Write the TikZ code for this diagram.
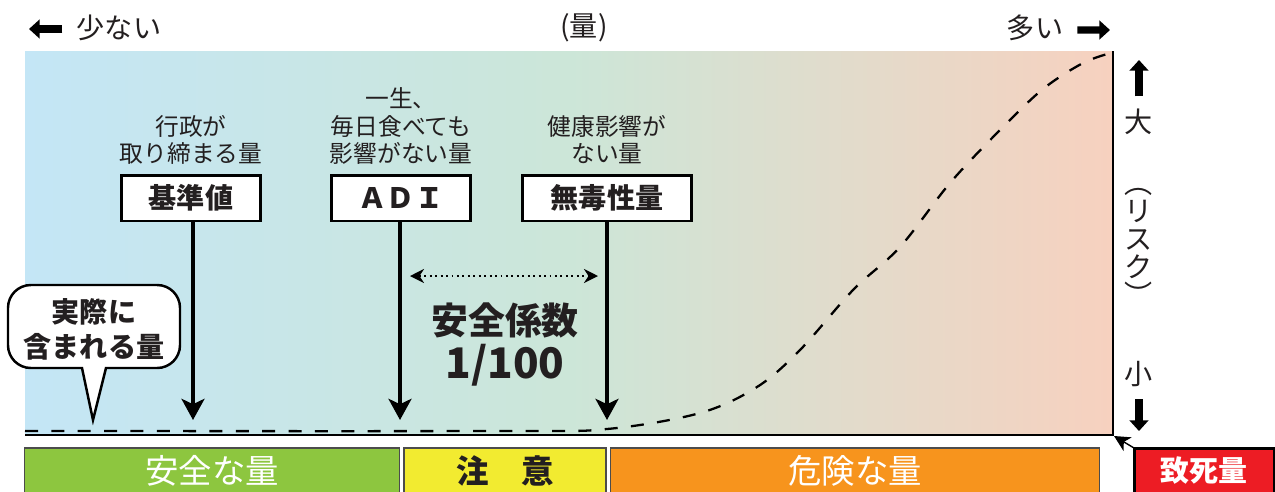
\documentclass[tikz,border=0pt]{standalone}
\usepackage{fontspec}
\newfontfamily\jp{Noto Sans CJK JP}
\usetikzlibrary{positioning}
\usetikzlibrary{arrows.meta}
\definecolor{ink}{HTML}{231F20}
\definecolor{skyblue}{HTML}{C4E6F6}
\definecolor{mint}{HTML}{CCE6D8}
\definecolor{peach}{HTML}{F7D1BF}
\definecolor{safegreen}{HTML}{8DC63F}
\definecolor{warnyellow}{HTML}{F2EB30}
\definecolor{riskorange}{HTML}{F7941D}
\definecolor{deathred}{HTML}{ED1C24}

\begin{document}
\begin{tikzpicture}[x=0.02cm,y=-0.02cm,font=\jp,text=ink,
    namebox/.style={draw=black,fill=white,line width=1.7pt,minimum width=2.8cm,minimum height=0.92cm,inner sep=0pt,font=\jp\bfseries\fontsize{16}{18}\selectfont},
    note/.style={align=center,inner sep=0pt,font=\jp\fontsize{13.5}{15.5}\selectfont},
    side/.style={inner sep=0pt,font=\jp\fontsize{16}{16}\selectfont},
    bar/.style={minimum height=0.92cm,inner sep=0pt,outer sep=0pt,draw=black!70,line width=0.6pt,text=white,font=\jp\fontsize{19}{20}\selectfont},
    down/.style={line width=2.3pt,-{Stealth[length=12pt,width=13pt,inset=3pt]}},
    fat/.style={line width=4pt,-{Triangle[length=6pt,width=10.5pt]}},
    curve/.style={line width=1.3pt,dash pattern=on 7.4pt off 7.6pt}]
    \useasboundingbox (0,0) rectangle (1275,491);

    % plot area
    \shade[left color=skyblue,right color=peach,middle color=mint] (25,51) rectangle (1113,435);
    \draw[curve] plot[smooth,tension=0.55] coordinates {(25,431) (500,431) (607,429) (700,413) (757,387) (800,350) (853,290) (900,247) (950,183) (1000,130) (1043,89) (1083,63) (1111,53)};
    \draw[line width=1.4pt] (25,435) -- (1113,435) -- (1113,51);
    \coordinate (corner) at (1114,436);

    % amount axis
    \node (less)[side] at (119,28) {少ない};
    \node (amount)[side] at (584,28) {(量)};
    \node (more)[side] at (1035,28) {多い};
    \coordinate (lesstip) at (29,29);
    \coordinate (moretip) at (1110,30);
    \draw[fat] ([xshift=-0.28cm,yshift=-0.02cm]less.west) -- (lesstip);
    \draw[fat] ([xshift=0.28cm,yshift=-0.04cm]more.east) -- (moretip);

    % risk axis
    \node (large)[side] at (1139,122) {大};
    \node (risk)[side,align=center,font=\jp\fontsize{16}{16}\selectfont] at (1139,247) {︵\\リ\\ス\\ク\\︶};
    \node (small)[side] at (1139,374) {小};
    \coordinate (uptip) at (1139,60);
    \coordinate (downtip) at (1139,431);
    \draw[fat] ([yshift=0.25cm]large.north) -- (uptip);
    \draw[fat] ([yshift=-0.24cm]small.south) -- (downtip);

    % reference values
    \node (kijun)[namebox] at (191,198) {基準値};
    \node (adi)[namebox] at (401,198) {ＡＤＩ};
    \node (noael)[namebox,minimum width=3.4cm] at (607,198) {無毒性量};

    \node (kijunnote)[note,above=0.18cm of kijun] {行政が\\取り締まる量};
    \node (adinote)[note,above=0.18cm of adi] {一生、\\毎日食べても\\影響がない量};
    \node (noaelnote)[note,above=0.18cm of noael] {健康影響が\\ない量};

    \coordinate (kijuntip) at (193,420);
    \coordinate (aditip) at (400,420);
    \coordinate (noaeltip) at (607,420);
    \draw[down] (kijun.south -| kijuntip) -- (kijuntip);
    \draw[down] (adi.south -| aditip) -- (aditip);
    \draw[down] (noael.south -| noaeltip) -- (noaeltip);

    % safety factor
    \coordinate (gapl) at (410,276);
    \coordinate (gapr) at (598,276);
    \draw[line width=1.1pt,dotted,{Stealth[length=8pt,width=8pt]}-{Stealth[length=8pt,width=8pt]}] (gapl) -- (gapr);
    \node (factor)[font=\jp\bfseries\fontsize{21}{21}\selectfont] at (505,320) {安全係数};
    \node (ratio)[font=\jp\bfseries\fontsize{24}{24}\selectfont] at (505,365) {1/100};

    % actual amount balloon
    \draw[fill=white,line width=1.4pt] (82,368) [rounded corners=13pt] -- (8,368) -- (8,285) -- (180,285) -- (180,368) [sharp corners] -- (106,368) -- (93,420) -- cycle;
    \node (actual)[align=center,font=\jp\bfseries\fontsize{16}{19.8}\selectfont] at (94,329) {実際に\\含まれる量};

    % zones
    \node (safe)[bar,fill=safegreen,minimum width=7.5cm] at (212,471) {安全な量};
    \node (caution)[bar,fill=warnyellow,minimum width=4.04cm,text=ink,font=\jp\bfseries\fontsize{18.5}{20}\selectfont] at (505,471) {注　意};
    \node (danger)[bar,fill=riskorange,minimum width=9.8cm] at (855,471) {危険な量};
    \node (lethal)[bar,fill=deathred,draw=black,line width=1.7pt,minimum width=2.8cm,font=\jp\bfseries\fontsize{16.5}{20}\selectfont] at (1204,471) {致死量};
    \draw[line width=0.8pt,-{Stealth[length=9pt,width=9pt,inset=2.5pt]}] (lethal.north west) -- (corner);
\end{tikzpicture}
\end{document}
